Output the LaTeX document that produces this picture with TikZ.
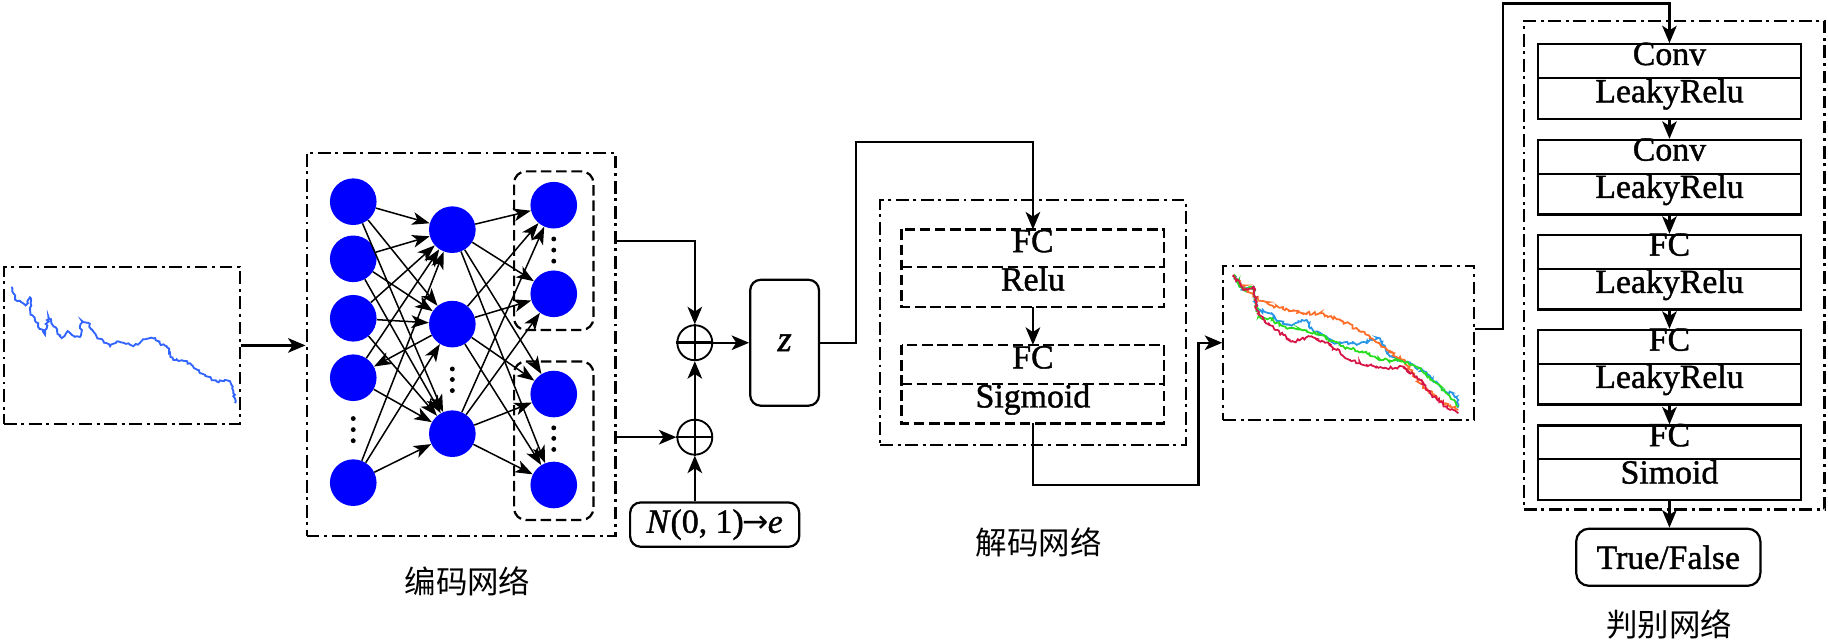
\documentclass[tikz,border=0pt]{standalone}
\usepackage{fontspec}
\setmainfont{Liberation Serif}
\newfontfamily\tnr{Liberation Serif}[FakeBold=1.2]
\newfontfamily\djv{DejaVu Sans}
\newfontfamily\cjk{Noto Sans CJK SC}
\usetikzlibrary{arrows.meta,decorations.pathmorphing,calc}
\definecolor{nnblue}{RGB}{0,0,255}
\definecolor{sigblue}{RGB}{50,100,255}
\definecolor{gorange}{RGB}{255,110,40}
\definecolor{gblue}{RGB}{40,150,230}
\definecolor{ggreen}{RGB}{40,220,30}
\definecolor{gred}{RGB}{215,20,70}
\tikzset{
  dashdot/.style={line width=1.9pt, dash pattern=on 11pt off 4pt on 2.5pt off 4pt},
  dashbox/.style={line width=1.9pt, dash pattern=on 9pt off 4pt},
  arr/.style={line width=1.9pt, -{Stealth[length=15pt,width=12.5pt,inset=4pt]}},
  nnarr/.style={line width=1.3pt, -{Stealth[length=15pt,width=11pt,inset=4pt]}},
  neuron/.style={circle, fill=nnblue, minimum size=40pt, inner sep=0pt},
  txt/.style={font=\tnr\fontsize{29}{33}\selectfont, inner sep=0pt, text height=0.75em, text depth=0.1em},
  dsec/.style={txt, minimum width=225pt},
  ltop/.style={txt, draw, line width=1.9pt, minimum width=226pt, minimum height=29pt},
  lbot/.style={txt, draw, line width=1.9pt, minimum width=226pt, minimum height=35pt},
  cjklbl/.style={font=\cjk\fontsize{27}{30}\selectfont, inner sep=0pt},
  plusnode/.style={circle, draw, line width=1.6pt, minimum size=30pt, inner sep=0pt},
  rbox/.style={draw, line width=1.9pt, rounded corners=9pt, inner sep=0pt},
  sig/.style={line width=1.6pt, decorate, decoration={random steps, segment length=1.8pt, amplitude=1.1pt}}
}
\begin{document}
\begin{tikzpicture}[x=1pt, y=-1pt]
\pgfmathsetseed{7}
\useasboundingbox (0,0) rectangle (1568,552);

% ---------- input signal ----------
\node[draw, dashdot, minimum width=202.5pt, minimum height=135pt, inner sep=0pt] (inbox) at (104.6,296.3) {};
\draw[sig, sigblue] (10,246) -- (12.9,257) -- (18,259) -- (22,262) -- (25.7,255) -- (26,268) -- (30,275) -- (38.6,287) -- (41.5,271.6) -- (46,280) -- (52.9,290) -- (58,284) -- (63,288) -- (68.6,289) -- (70,275) -- (75.8,277) -- (83,289) -- (94.4,297) -- (100,293) -- (106,294) -- (114.4,297) -- (122,292) -- (133,290) -- (138,296) -- (143,297) -- (148.7,308.8) -- (156,309) -- (163,311.6) -- (171.6,320) -- (178,323) -- (185.9,327.3) -- (192,327) -- (197.3,327) -- (199.6,331.5) -- (201.6,345.8);

% ---------- encoder ----------
\node[draw, dashdot, minimum width=265pt, minimum height=329pt, inner sep=0pt] (enc) at (395.5,295.5) {};
\node[draw, dashbox, rounded corners=10pt, minimum width=68pt, minimum height=136pt, inner sep=0pt] (sub1) at (475,215) {};
\node[draw, dashbox, rounded corners=10pt, minimum width=68pt, minimum height=136pt, inner sep=0pt] (sub2) at (475,378) {};

\node[neuron] (a1) at (303,173) {};
\node[neuron] (a2) at (303,222) {};
\node[neuron] (a3) at (303,273) {};
\node[neuron] (a4) at (303,324) {};
\node[neuron] (a5) at (303,414) {};
\node[neuron] (b1) at (388,197) {};
\node[neuron] (b2) at (388,278) {};
\node[neuron] (b3) at (388,372) {};
\node[neuron] (c1) at (475,176) {};
\node[neuron] (c2) at (475,252) {};
\node[neuron] (c3) at (475,338) {};
\node[neuron] (c4) at (475,416) {};
\foreach \yy in {359,368.5,378} \fill (303,\yy) circle (2.1pt);
\foreach \yy in {316.5,325.5,335} \fill (388,\yy) circle (2.1pt);
\foreach \yy in {205,214.5,224} \fill (475,\yy) circle (2.1pt);
\foreach \yy in {367,376,385.5} \fill (475,\yy) circle (2.1pt);

\foreach \i in {1,2,3,5} {\foreach \j in {1,2,3} {\draw[nnarr] (a\i) -- (b\j);}}
\draw[nnarr] (a4) -- (b1);
\draw[nnarr] (a4) -- (b3);
\draw[nnarr] (b2) -- (a4);
\foreach \i in {1,2,3} {\foreach \j in {1,2,3,4} {\draw[nnarr] (b\i) -- (c\j);}}

\draw[arr] (inbox.east) -- (inbox.east -| enc.west);

\node[cjklbl] (enclbl) at (401,499) {编码网络};

% ---------- sampling ----------
\node[plusnode] (p1) at (596,294) {};
\node[plusnode] (p2) at (596,375) {};
\draw[line width=2.2pt] (p1.north) -- (p1.south) (p1.west) -- (p1.east);
\draw[line width=2.2pt] (p2.north) -- (p2.south) (p2.west) -- (p2.east);
\node[rbox, minimum width=145pt, minimum height=38pt, font=\tnr\fontsize{29}{33}\selectfont] (nbox) at (613,450) {\textit{N}(0, 1)\kern-1pt{\djv\fontsize{27}{30}\selectfont →}\kern-1pt\textit{e}};
\node[rbox, minimum width=59pt, minimum height=108pt, font=\tnr\fontsize{31}{34}\selectfont\itshape] (z) at (673,294) {z};

\coordinate (e1) at (528,207);
\coordinate (e2) at (528,375);
\draw[arr] (e1) -| (p1.north);
\draw[arr] (e2) -- (p2.west);
\draw[arr] (nbox.north -| p2) -- (p2.south);
\draw[arr] (p2.north) -- (p1.south);
\draw[arr] (p1.east) -- (z.west);

% ---------- decoder ----------
\node[draw, dashdot, minimum width=262pt, minimum height=210pt, inner sep=0pt] (dec) at (886,276.7) {};
\node[dsec, minimum height=32pt] (fc1) at (886,213) {FC};
\node[dsec, minimum height=34pt] (relu) at (886,246) {Relu};
\node[dsec, minimum height=33.5pt] (fc2) at (886,312.75) {FC};
\node[dsec, minimum height=33.5pt] (sigm) at (886,346.25) {Sigmoid};
\draw[dashbox] (fc1.north west) rectangle (relu.south east);
\draw[dashbox] (fc1.south west) -- (fc1.south east);
\draw[dashbox] (fc2.north west) rectangle (sigm.south east);
\draw[dashbox] (fc2.south west) -- (fc2.south east);
\draw[arr] (relu.south) -- (fc2.north);
\coordinate (zc) at (734,122);
\draw[arr] (z.east) -| (zc) -| (fc1.north);
\node[cjklbl] (declbl) at (891,465) {解码网络};

% ---------- generated signals ----------
\node[draw, dashdot, minimum width=215pt, minimum height=132pt, inner sep=0pt] (gen) at (1156.85,294) {};
\coordinate (dc) at (1028,416);
\draw[arr] (sigm.south) |- (dc) |- (gen.west);
\begin{scope}[line width=1.5pt, decoration={random steps, segment length=1.5pt, amplitude=1.4pt}]
\draw[gblue, decorate] (1058.5,235.8) -- (1066.5,248.7) -- (1075.1,245.9) -- (1077.9,265.9) -- (1090.8,268.7) -- (1095.1,275.9) -- (1106.5,278.7) -- (1120.8,274.4) -- (1123.7,281.6) -- (1146.5,294.5) -- (1166.6,294.5) -- (1183.7,290.2) -- (1192.3,305.9) -- (1209.4,311.6) -- (1223.7,320.2) -- (1238,334.5) -- (1249.5,340.2) -- (1250,350);
\draw[gorange, decorate] (1058.5,235.8) -- (1075.1,254.4) -- (1089.4,261.6) -- (1118,268.7) -- (1132.3,268.7) -- (1152.3,275.9) -- (1175.1,288.7) -- (1189.4,300.2) -- (1203.7,308.7) -- (1218,328.8) -- (1238,345.9) -- (1250.9,351.6);
\draw[ggreen, decorate] (1058.5,235.8) -- (1066.5,248.7) -- (1075.1,245.9) -- (1079.4,271.6) -- (1090.8,274.4) -- (1103.7,281.6) -- (1118,283) -- (1132.3,287.3) -- (1152.3,297.3) -- (1172.3,303) -- (1186.6,308.7) -- (1203.7,310.2) -- (1215.2,314.5) -- (1232.3,328.8) -- (1250.9,348.8);
\draw[gred, decorate] (1058.5,235.8) -- (1066.5,248.7) -- (1075.1,245.9) -- (1077.9,265.9) -- (1086.5,277.3) -- (1100.8,287.3) -- (1109.4,293) -- (1123.7,288.7) -- (1135.1,293) -- (1146.5,300.2) -- (1158,308.7) -- (1172.3,313) -- (1186.6,315.9) -- (1203.7,314.5) -- (1215.2,323) -- (1226.6,337.3) -- (1243.8,351.6) -- (1250.9,354.5);
\end{scope}

% ---------- discriminator ----------
\node[draw, dashdot, minimum width=258pt, minimum height=419pt, inner sep=0pt] (disc) at (1436,227.5) {};
\node[ltop] (l1a) at (1432,52.5) {Conv};
\node[lbot] (l1b) at (1432,84.5) {LeakyRelu};
\node[ltop] (l2a) at (1432,134.5) {Conv};
\node[lbot] (l2b) at (1432,166.5) {LeakyRelu};
\node[ltop] (l3a) at (1432,216) {FC};
\node[lbot] (l3b) at (1432,248) {LeakyRelu};
\node[ltop] (l4a) at (1432,297.5) {FC};
\node[lbot] (l4b) at (1432,329.5) {LeakyRelu};
\node[ltop] (l5a) at (1432,379.5) {FC};
\node[lbot] (l5b) at (1432,411.5) {Simoid};
\draw[arr] (l1b.south) -- (l2a.north);
\draw[arr] (l2b.south) -- (l3a.north);
\draw[arr] (l3b.south) -- (l4a.north);
\draw[arr] (l4b.south) -- (l5a.north);
\node[rbox, rounded corners=11pt, minimum width=158pt, minimum height=49pt, font=\tnr\fontsize{29}{33}\selectfont] (tf) at (1431,478) {True/False};
\draw[arr] (l5b.south) -- (tf.north -| l5b);
\coordinate (gout) at (gen.east |- 0,282.5);
\coordinate (gc) at (1289,3);
\draw[arr] (gout) -| (gc) -| (l1a.north);
\node[cjklbl] (dislbl) at (1432,536) {判别网络};
\end{tikzpicture}
\end{document}
